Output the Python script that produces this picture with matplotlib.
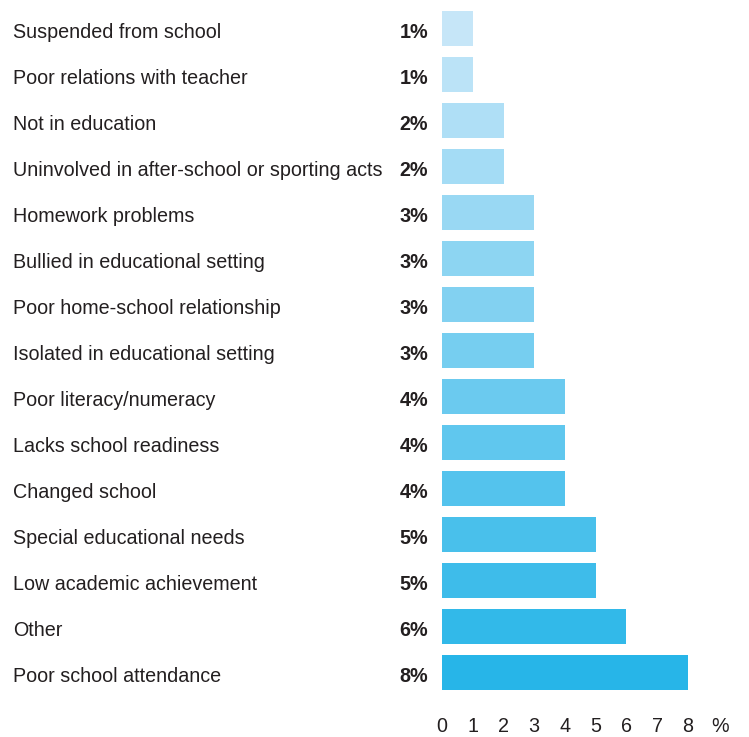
import matplotlib
matplotlib.use("Agg")
import matplotlib.pyplot as plt
import matplotlib.transforms as mtrans
import numpy as np
from matplotlib.colors import to_rgb

plt.rcParams['font.family'] = ['Liberation Sans', 'DejaVu Sans']

# data, top to bottom
labels = [
    "Suspended from school",
    "Poor relations with teacher",
    "Not in education",
    "Uninvolved in after-school or sporting acts",
    "Homework problems",
    "Bullied in educational setting",
    "Poor home-school relationship",
    "Isolated in educational setting",
    "Poor literacy/numeracy",
    "Lacks school readiness",
    "Changed school",
    "Special educational needs",
    "Low academic achievement",
    "Other",
    "Poor school attendance",
]
values = [1, 1, 2, 2, 3, 3, 3, 3, 4, 4, 4, 5, 5, 6, 8]
xticks = [0, 1, 2, 3, 4, 5, 6, 7, 8]

# colour ramp light -> strong blue
c_top = np.array(to_rgb("#C6E6F8"))
c_bot = np.array(to_rgb("#27B5E8"))
n = len(values)
colors = [tuple(c_top + (c_bot - c_top) * i / (n - 1)) for i in range(n)]

txt = "#231f20"
fs = 14.2
pad = 15

fig = plt.figure(figsize=(7.49, 7.37), dpi=100)
ax = fig.add_axes([442 / 749, 1 - 696 / 737, (688 - 442) / 749, 690.5 / 737])

ypos = np.arange(n)
ax.barh(ypos, values, height=0.76, color=colors)
ax.set_xlim(0, 8)
ax.set_ylim(n - 0.5, -0.5)

for s in ax.spines.values():
    s.set_visible(False)
ax.set_yticks([])
ax.set_xticks(xticks)
ax.set_xticklabels([str(t) for t in xticks], fontsize=fs, color=txt)
ax.tick_params(axis="x", length=0, pad=pad)

# "%" unit after the tick labels
pct_tr = mtrans.blended_transform_factory(ax.transData, ax.transAxes) + \
    mtrans.ScaledTranslation(0, -pad / 72, fig.dpi_scale_trans)
ax.text(9.04, 0, "%", transform=pct_tr, ha="center", va="top",
        fontsize=fs, color=txt, clip_on=False)

# row labels and values, baseline a bit below bar centre
trans_lab = mtrans.blended_transform_factory(fig.transFigure, ax.transData) + \
    mtrans.ScaledTranslation(0, -9.5 / 100, fig.dpi_scale_trans)
for i, (lab, v) in enumerate(zip(labels, values)):
    ax.text(13 / 749, i, lab, transform=trans_lab, ha="left", va="baseline",
            fontsize=fs, color=txt)
    ax.text(428 / 749, i, f"{v}%", transform=trans_lab, ha="right", va="baseline",
            fontsize=fs, fontweight="bold", color=txt)

fig.savefig("out.png", dpi=100)
